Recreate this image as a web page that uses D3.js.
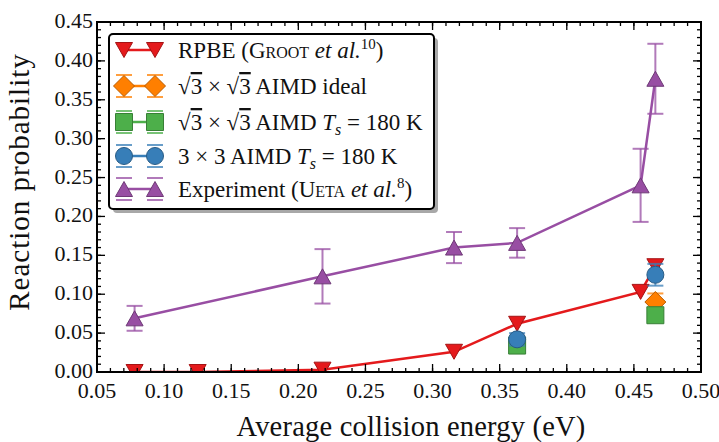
<!DOCTYPE html>
<html lang="en">
<head>
<meta charset="UTF-8">
<title>Reaction probability vs collision energy</title>
<style>
  body { margin: 0; background: #fff; }
  svg text { font-family: "Liberation Serif", "DejaVu Serif", serif; fill: #111; }
</style>
</head>
<body>
<script src="https://d3js.org/d3.v7.min.js"></script>
<script>
// ---- data ----
const rpbeE = [0.078, 0.125, 0.218, 0.316, 0.363, 0.455, 0.466];
const rpbeP = [0.000, 0.000, 0.003, 0.026, 0.062, 0.103, 0.136];

const idealE = [0.466];
const idealP = [0.090];
const idealErr = [0.011];

const ts3E = [0.363, 0.466];
const ts3P = [0.034, 0.073];
const ts3Err = [0.006, 0.006];

const ts9E = [0.363, 0.466];
const ts9P = [0.042, 0.125];
const ts9Err = [0.008, 0.014];

const expE = [0.078, 0.218, 0.316, 0.363, 0.455, 0.466];
const expP = [0.069, 0.123, 0.160, 0.166, 0.240, 0.377];
const expErr = [0.016, 0.035, 0.020, 0.019, 0.047, 0.045];

const xTicks = [0.05, 0.10, 0.15, 0.20, 0.25, 0.30, 0.35, 0.40, 0.45, 0.50];
const yTicks = [0.00, 0.05, 0.10, 0.15, 0.20, 0.25, 0.30, 0.35, 0.40, 0.45];

// joined: whether the points are connected by a line in the plot
const series = [
  { key: 'rpbe',  color: '#e41a1c', shape: 'tdown',   E: rpbeE,  P: rpbeP,  err: null,     joined: true },
  { key: 'ideal', color: '#ff7f00', shape: 'diamond', E: idealE, P: idealP, err: idealErr, joined: false },
  { key: 'ts3',   color: '#4daf4a', shape: 'square',  E: ts3E,   P: ts3P,   err: ts3Err,   joined: false },
  { key: 'ts9',   color: '#377eb8', shape: 'circle',  E: ts9E,   P: ts9P,   err: ts9Err,   joined: false },
  { key: 'exp',   color: '#984ea3', shape: 'tup',     E: expE,   P: expP,   err: expErr,   joined: true }
];

// ---- layout ----
const W = 719, H = 442;
const m = { l: 97, r: 18, t: 22, b: 70 };

const svg = d3.select('body').append('svg')
  .attr('width', W).attr('height', H);

const x = d3.scaleLinear().domain([0.05, 0.5]).range([m.l, W - m.r]);
const y = d3.scaleLinear().domain([0, 0.45]).range([H - m.b, m.t]);

svg.append('clipPath').attr('id', 'plotclip')
  .append('rect')
  .attr('x', m.l).attr('y', m.t)
  .attr('width', W - m.r - m.l).attr('height', H - m.b - m.t);

// marker path around (0,0)
function markerPath(shape) {
  if (shape === 'tdown') return 'M-8.5,-7.5L8.5,-7.5L0,7.5Z';
  if (shape === 'tup') return 'M-8.5,7.5L8.5,7.5L0,-7.5Z';
  if (shape === 'diamond') return 'M0,-10.5L10.5,0L0,10.5L-10.5,0Z';
  if (shape === 'square') return 'M-8.5,-8.5L8.5,-8.5L8.5,8.5L-8.5,8.5Z';
  return d3.symbol(d3.symbolCircle, Math.PI * 8.5 * 8.5)();
}

function drawMarker(g, s, cx, cy) {
  g.append('path')
    .attr('d', markerPath(s.shape))
    .attr('transform', `translate(${cx},${cy})`)
    .attr('fill', s.color)
    .attr('stroke', d3.color(s.color).darker(0.9))
    .attr('stroke-width', 1);
}

const plot = svg.append('g').attr('clip-path', 'url(#plotclip)');

const line = d3.line().x(d => x(d[0])).y(d => y(d[1]));

series.forEach(s => {
  const g = plot.append('g').attr('class', s.key);
  const pts = s.E.map((e, i) => [e, s.P[i]]);
  // error bars
  if (s.err) {
    const ec = s.color;
    pts.forEach((p, i) => {
      const lo = y(p[1] - s.err[i]), hi = y(p[1] + s.err[i]), cx = x(p[0]);
      g.append('line').attr('x1', cx).attr('x2', cx).attr('y1', lo).attr('y2', hi)
        .attr('stroke', ec).attr('stroke-width', 2).attr('opacity', 0.75);
      [lo, hi].forEach(v => g.append('line')
        .attr('x1', cx - 8).attr('x2', cx + 8).attr('y1', v).attr('y2', v)
        .attr('stroke', ec).attr('stroke-width', 2).attr('opacity', 0.75));
    });
  }
  if (s.joined) {
    g.append('path').datum(pts)
      .attr('d', line)
      .attr('fill', 'none')
      .attr('stroke', s.color)
      .attr('stroke-width', 2.5);
  }
  pts.forEach(p => drawMarker(g, s, x(p[0]), y(p[1])));
});

// ---- axes (ticks inward, on all four sides) ----
const axes = svg.append('g');
const minorX = d3.range(0.05, 0.5001, 0.01).map(v => +v.toFixed(2));
const minorY = d3.range(0, 0.4501, 0.01).map(v => +v.toFixed(2));

function tickLines(vals, len, isX) {
  vals.forEach(v => {
    if (isX) {
      const px = x(v);
      axes.append('line').attr('x1', px).attr('x2', px).attr('y1', y(0)).attr('y2', y(0) - len)
        .attr('stroke', '#000').attr('stroke-width', 1.3);
      axes.append('line').attr('x1', px).attr('x2', px).attr('y1', y(0.45)).attr('y2', y(0.45) + len)
        .attr('stroke', '#000').attr('stroke-width', 1.3);
    } else {
      const py = y(v);
      axes.append('line').attr('x1', x(0.05)).attr('x2', x(0.05) + len).attr('y1', py).attr('y2', py)
        .attr('stroke', '#000').attr('stroke-width', 1.3);
      axes.append('line').attr('x1', x(0.5)).attr('x2', x(0.5) - len).attr('y1', py).attr('y2', py)
        .attr('stroke', '#000').attr('stroke-width', 1.3);
    }
  });
}
tickLines(minorX, 4, true);
tickLines(xTicks, 8, true);
tickLines(minorY, 4, false);
tickLines(yTicks, 8, false);

axes.append('rect')
  .attr('x', m.l).attr('y', m.t)
  .attr('width', W - m.r - m.l).attr('height', H - m.b - m.t)
  .attr('fill', 'none').attr('stroke', '#000').attr('stroke-width', 2);

axes.selectAll('.xl').data(xTicks).enter().append('text')
  .attr('x', d => x(d)).attr('y', y(0) + 26)
  .attr('text-anchor', 'middle').style('font-size', '22px')
  .text(d => d.toFixed(2));

axes.selectAll('.yl').data(yTicks).enter().append('text')
  .attr('x', m.l - 4).attr('y', d => y(d) + 6)
  .attr('text-anchor', 'end').style('font-size', '22px')
  .text(d => d.toFixed(2));

svg.append('text')
  .attr('x', 411).attr('y', 436)
  .attr('text-anchor', 'middle').style('font-size', '28.5px')
  .style('letter-spacing', '0.2px')
  .text('Average collision energy (eV)');

svg.append('text')
  .attr('transform', `translate(29,${182}) rotate(-90)`)
  .attr('text-anchor', 'middle').style('font-size', '29px')
  .style('letter-spacing', '1px')
  .text('Reaction probability');

// ---- legend ----
const lg = svg.append('g');
const lb = { x: 109, y: 34, w: 325, h: 175 };
lg.append('rect').attr('x', lb.x + 4).attr('y', lb.y + 4).attr('width', lb.w).attr('height', lb.h)
  .attr('rx', 4).attr('fill', '#a8a8a8');
lg.append('rect').attr('x', lb.x).attr('y', lb.y).attr('width', lb.w).attr('height', lb.h)
  .attr('rx', 4).attr('fill', '#fff').attr('stroke', '#000').attr('stroke-width', 2);

const rowY = [50, 86, 122, 156, 189];
const legendText = [
  [['RPBE (', ''], ['Groot', 'sc'], [' ', ''], ['et al.', 'it'], ['10', 'sup'], [')', '']],
  [['√', ''], ['3', 'ov'], [' × √', ''], ['3', 'ov'], [' AIMD ideal', '']],
  [['√', ''], ['3', 'ov'], [' × √', ''], ['3', 'ov'], [' AIMD ', ''], ['T', 'it'], ['s', 'sub'], [' = 180 K', '']],
  [['3 × 3 AIMD ', ''], ['T', 'it'], ['s', 'sub'], [' = 180 K', '']],
  [['Experiment (', ''], ['Ueta', 'sc'], [' ', ''], ['et al.', 'it'], ['8', 'sup'], [')', '']]
];

series.forEach((s, i) => {
  const cy = rowY[i];
  const g = lg.append('g');
  const x1 = 124, x2 = 155;
  if (s.err) {
    [x1, x2].forEach(cx => [cy - 11, cy + 11].forEach(v => g.append('line')
      .attr('x1', cx - 8).attr('x2', cx + 8).attr('y1', v).attr('y2', v)
      .attr('stroke', s.color).attr('stroke-width', 2).attr('opacity', 0.75)));
  }
  g.append('line').attr('x1', x1).attr('x2', x2).attr('y1', cy).attr('y2', cy)
    .attr('stroke', s.color).attr('stroke-width', 2.5);
  drawMarker(g, s, x1, cy);
  drawMarker(g, s, x2, cy);

  const t = lg.append('text').attr('x', 178).attr('y', cy + 8).style('font-size', '23px');
  legendText[i].forEach(([str, kind]) => {
    const sp = t.append('tspan').text(str);
    if (kind === 'sc') sp.style('font-variant', 'small-caps');
    if (kind === 'it') sp.style('font-style', 'italic');
    if (kind === 'sup') sp.attr('dy', -9).style('font-size', '15px');
    if (kind === 'sub') sp.attr('dy', 5).style('font-size', '16px').style('font-style', 'italic');
    if (kind === 'ov') sp.style('text-decoration', 'overline');
    if (kind === 'sup' || kind === 'sub') {
      sp.attr('class', 'shifted');
      sp.datum(kind === 'sup' ? 9 : -5);
    }
  });
  // restore baseline after sup/sub
  t.selectAll('tspan').each(function (d, j, nodes) {
    const prev = nodes[j - 1];
    if (prev && d3.select(prev).classed('shifted')) d3.select(this).attr('dy', d3.select(prev).datum());
  });
});
</script>
</body>
</html>
